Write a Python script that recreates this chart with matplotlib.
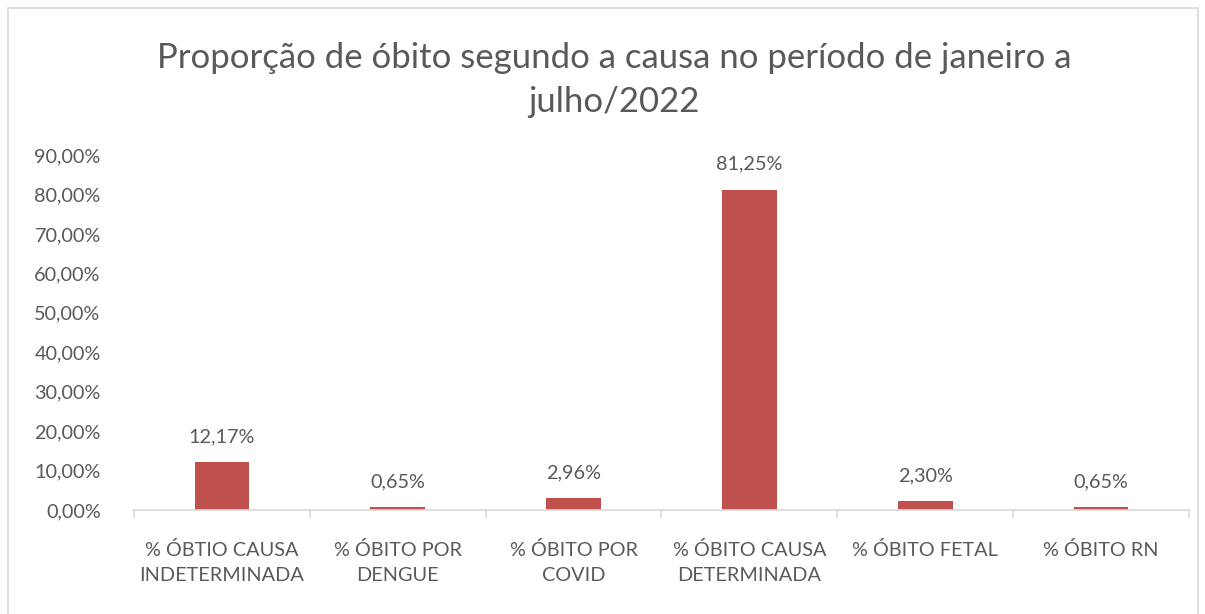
import matplotlib.pyplot as plt
from matplotlib.patches import Rectangle
from matplotlib.ticker import FuncFormatter

# dados
categorias = ['% ÓBTIO CAUSA\nINDETERMINADA', '% ÓBITO POR\nDENGUE', '% ÓBITO POR\nCOVID',
              '% ÓBITO CAUSA\nDETERMINADA', '% ÓBITO FETAL', '% ÓBITO RN']
valores = [12.17, 0.65, 2.96, 81.25, 2.30, 0.65]
rotulos = ['12,17%', '0,65%', '2,96%', '81,25%', '2,30%', '0,65%']
yticks = [0, 10, 20, 30, 40, 50, 60, 70, 80, 90]

plt.rcParams['font.family'] = ['Lato', 'DejaVu Sans']
cor_texto = '#595959'
cor_barra = '#C0504D'
cor_eixo = '#D9D9D9'

fig = plt.figure(figsize=(12.05, 6.14), dpi=100)
# borda da área do gráfico
fig.patches.append(Rectangle((8 / 1205, -0.05), 1190 / 1205, 1.05 - 8 / 614,
                             transform=fig.transFigure, fill=False,
                             edgecolor='#D9D9D9', linewidth=1.2))

ax = fig.add_axes([134 / 1205, 1 - 510 / 614, (1189 - 134) / 1205, (510 - 155) / 614])
x = range(len(valores))
ax.bar(x, valores, width=0.31, color=cor_barra, zorder=2)
for i, v in enumerate(valores):
    ax.annotate(rotulos[i], (i, v), xytext=(0, 12), textcoords='offset points',
                ha='center', va='bottom', fontsize=14.3, color=cor_texto)

ax.set_xlim(-0.5, len(valores) - 0.5)
ax.set_ylim(0, 90)
ax.set_yticks(yticks)
ax.yaxis.set_major_formatter(FuncFormatter(lambda v, p: f'{v:.2f}%'.replace('.', ',')))
ax.set_xticks(list(x))
ax.set_xticklabels(categorias, fontsize=14.3, color=cor_texto, linespacing=1.6)
ax.set_xticks([i - 0.5 for i in range(len(valores) + 1)], minor=True)
ax.tick_params(axis='x', which='major', length=0, pad=22)
ax.tick_params(axis='x', which='minor', length=6, color=cor_eixo, width=1.2)
ax.tick_params(axis='y', length=0, pad=24, labelsize=14.3, labelcolor=cor_texto)

for s in ['top', 'right', 'left']:
    ax.spines[s].set_visible(False)
ax.spines['bottom'].set_color(cor_eixo)
ax.spines['bottom'].set_linewidth(1.2)

fig.text(614 / 1205, 1 - 80 / 614,
         'Proporção de óbito segundo a causa no período de janeiro a\njulho/2022',
         ha='center', va='center', fontsize=25, color=cor_texto, linespacing=1.5)

plt.savefig('out.png', dpi=100)
